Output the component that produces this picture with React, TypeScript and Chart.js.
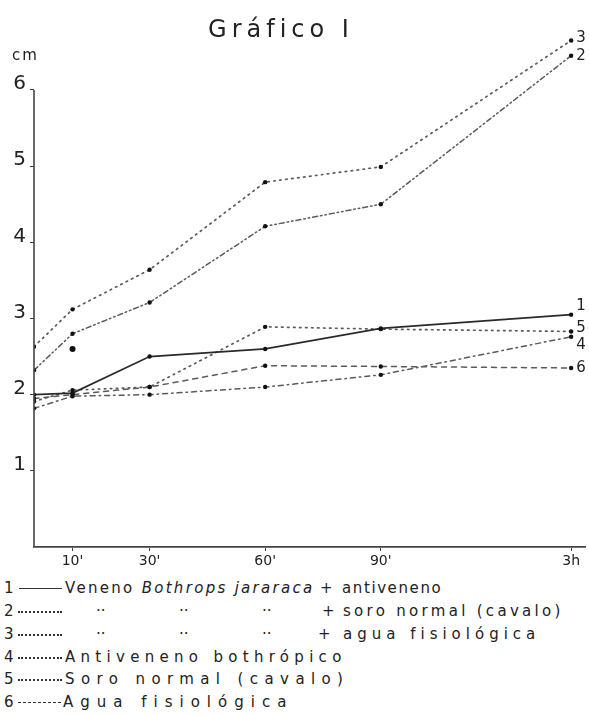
import React, { useEffect, useRef } from "react";
import { Chart, registerables } from "chart.js";
Chart.register(...registerables);

// ---- data ----
const timeLabels = ["0", "10'", "30'", "60'", "90'", "3h"];
// position of each time point on the (compressed after 90') time axis, in minutes
const timePositions = [0, 10, 30, 60, 90, 139.4];
const series1 = [2.0, 2.02, 2.5, 2.6, 2.87, 3.05]; // Veneno + antiveneno
const series2 = [2.32, 2.8, 3.21, 4.21, 4.5, 6.45]; // Veneno + soro normal
const series3 = [2.63, 3.12, 3.64, 4.79, 4.99, 6.65]; // Veneno + agua fisiológica
const series4 = [1.82, 1.98, 2.0, 2.1, 2.26, 2.76]; // Antiveneno bothrópico
const series5 = [1.91, 2.06, 2.1, 2.89, 2.86, 2.83]; // Soro normal
const series6 = [1.95, 2.0, 2.1, 2.38, 2.37, 2.35]; // Agua fisiológica
const strayPoint = { x: 10, y: 2.6 };
const yTicks = [1, 2, 3, 4, 5, 6];
const seriesNames = ["1", "2", "3", "4", "5", "6"];

const ink = "#2a2a2a";
const grey = "#5a5a5a";

function pts(vals: number[]) {
  return vals.map((v, i) => ({ x: timePositions[i], y: v }));
}

const endLabelOffsets: Record<string, number> = { "1": -9, "2": 0, "3": -2, "4": 8, "5": -3, "6": 0 };

const decorPlugin = {
  id: "decor",
  afterDatasetsDraw(chart: any) {
    const { ctx, scales } = chart;
    const xs = scales.x;
    const ys = scales.y;
    ctx.save();
    // y axis line, from 0 to 6
    ctx.strokeStyle = "#444";
    ctx.lineWidth = 1.6;
    ctx.beginPath();
    const ax = xs.getPixelForValue(0);
    ctx.moveTo(ax, ys.getPixelForValue(0));
    ctx.lineTo(ax, ys.getPixelForValue(6));
    ctx.stroke();
    // title
    ctx.fillStyle = "#222";
    ctx.font = "24px 'DejaVu Sans'";
    ctx.textAlign = "center";
    ctx.textBaseline = "middle";
    (ctx as any).letterSpacing = "5px";
    ctx.fillText("Gráfico I", 281, 31);
    // unit
    (ctx as any).letterSpacing = "2px";
    ctx.font = "15px 'DejaVu Sans'";
    ctx.textAlign = "left";
    ctx.fillText("cm", 12, 56);
    (ctx as any).letterSpacing = "0px";
    // end labels
    ctx.font = "15px 'DejaVu Sans'";
    chart.data.datasets.forEach((ds: any, i: number) => {
      if (!ds.endLabel) return;
      const meta = chart.getDatasetMeta(i);
      const last = meta.data[meta.data.length - 1];
      ctx.fillText(ds.endLabel, last.x + 5, last.y + (endLabelOffsets[ds.endLabel] || 0));
    });
    ctx.restore();
  },
};

function App() {
  const ref = useRef<HTMLCanvasElement>(null);
  useEffect(() => {
    const canvas = ref.current!;
    const mk = (data: number[], label: string, dash: number[], width: number, color: string) => ({
      label,
      endLabel: label,
      data: pts(data),
      borderColor: color,
      borderWidth: width,
      borderDash: dash,
      borderCapStyle: "round",
      pointRadius: 2.2,
      pointBackgroundColor: "#111",
      pointBorderWidth: 0,
      showLine: true,
      tension: 0,
      fill: false,
    });
    const chart = new Chart(canvas, {
      type: "scatter",
      data: {
        datasets: [
          mk(series1, seriesNames[0], [], 1.7, ink),
          mk(series2, seriesNames[1], [5, 3, 1.5, 3, 1.5, 3], 1.5, grey),
          mk(series3, seriesNames[2], [1.5, 4.5], 1.7, grey),
          mk(series4, seriesNames[3], [5, 4, 1.5, 4], 1.5, grey),
          mk(series5, seriesNames[4], [1.5, 4.5], 1.7, grey),
          mk(series6, seriesNames[5], [5, 5], 1.5, grey),
          {
            label: "",
            data: [strayPoint],
            showLine: false,
            pointRadius: 3,
            pointBackgroundColor: "#111",
            pointBorderWidth: 0,
          } as any,
        ] as any,
      },
      options: {
        responsive: false,
        animation: false,
        layout: { padding: { left: 0, right: 2, top: 21.4, bottom: 0 } },
        plugins: { legend: { display: false }, tooltip: { enabled: false }, title: { display: false } },
        scales: {
          x: {
            type: "linear",
            min: 0,
            max: 143,
            afterFit: (s: any) => {
              s.height = 28;
            },
            afterBuildTicks: (s: any) => {
              s.ticks = timePositions.slice(1).map((v) => ({ value: v }));
            },
            ticks: {
              autoSkip: false,
              maxRotation: 0,
              color: "#222",
              font: { family: "'DejaVu Sans'", size: 14 },
              padding: 2,
              callback: (v: any) => {
                const i = timePositions.indexOf(Number(v));
                return i >= 0 ? timeLabels[i] : "";
              },
            },
            grid: { drawOnChartArea: false, drawTicks: true, tickLength: 4, color: "#444" },
            border: { display: true, color: "#444", width: 1.8 },
          },
          y: {
            type: "linear",
            min: 0,
            max: 6.9,
            afterFit: (s: any) => {
              s.width = 34;
            },
            afterBuildTicks: (s: any) => {
              s.ticks = yTicks.map((v) => ({ value: v }));
            },
            ticks: {
              autoSkip: false,
              color: "#222",
              font: { family: "'DejaVu Sans'", size: 20 },
              padding: 4,
              labelOffset: -6,
            },
            grid: { drawOnChartArea: false, drawTicks: true, tickLength: 4, color: "#444" },
            border: { display: false },
          },
        },
      } as any,
      plugins: [decorPlugin],
    });
    return () => chart.destroy();
  }, []);

  const line: React.CSSProperties = {
    position: "absolute",
    left: 0,
    width: 589,
    height: 20,
    whiteSpace: "pre",
    fontFamily: "'DejaVu Sans'",
    fontSize: 15,
    color: "#222",
    lineHeight: "20px",
  };
  const at = (x: number, ls = 0): React.CSSProperties => ({ position: "absolute", left: x, top: 0, letterSpacing: ls });
  const sample = (x1: number, x2: number, style: string, w = 1.5): React.CSSProperties => ({
    position: "absolute",
    left: x1,
    width: x2 - x1,
    top: 10,
    height: 0,
    borderTop: `${w}px ${style} #333`,
  });
  const rows = [578, 601, 624, 647, 669, 692];
  return (
    <div style={{ position: "fixed", left: 0, top: 0, width: 589, height: 715, background: "#fff", overflow: "hidden" }}>
      <canvas ref={ref} width={589} height={575} style={{ position: "absolute", left: 0, top: 0 }} />
      <div style={{ ...line, top: rows[0] }}>
        <span style={at(4)}>1</span>
        <span style={sample(19, 62, "solid", 1.6)} />
        <span style={at(65, 2.3)}>
          Veneno <i>Bothrops jararaca</i>
        </span>
        <span style={at(320)}>+</span>
        <span style={at(342, 1.6)}>antiveneno</span>
      </div>
      <div style={{ ...line, top: rows[1] }}>
        <span style={at(4)}>2</span>
        <span style={sample(18, 62, "dotted", 2)} />
        <span style={at(96)}>··</span>
        <span style={at(179)}>··</span>
        <span style={at(262)}>··</span>
        <span style={at(322)}>+</span>
        <span style={at(343, 3.3)}>soro normal (cavalo)</span>
      </div>
      <div style={{ ...line, top: rows[2] }}>
        <span style={at(4)}>3</span>
        <span style={sample(18, 62, "dotted", 2)} />
        <span style={at(96)}>··</span>
        <span style={at(179)}>··</span>
        <span style={at(262)}>··</span>
        <span style={at(318)}>+</span>
        <span style={at(343, 5)}>agua fisiológica</span>
      </div>
      <div style={{ ...line, top: rows[3] }}>
        <span style={at(4)}>4</span>
        <span style={sample(18, 62, "dotted", 2)} />
        <span style={at(65, 5.3)}>Antiveneno bothrópico</span>
      </div>
      <div style={{ ...line, top: rows[4] }}>
        <span style={at(4)}>5</span>
        <span style={sample(18, 62, "dotted", 2)} />
        <span style={at(65, 6.4)}>Soro normal (cavalo)</span>
      </div>
      <div style={{ ...line, top: rows[5] }}>
        <span style={at(4)}>6</span>
        <span style={sample(18, 61, "dashed", 1.5)} />
        <span style={at(63, 7)}>Agua fisiológica</span>
      </div>
    </div>
  );
}

export default App;
